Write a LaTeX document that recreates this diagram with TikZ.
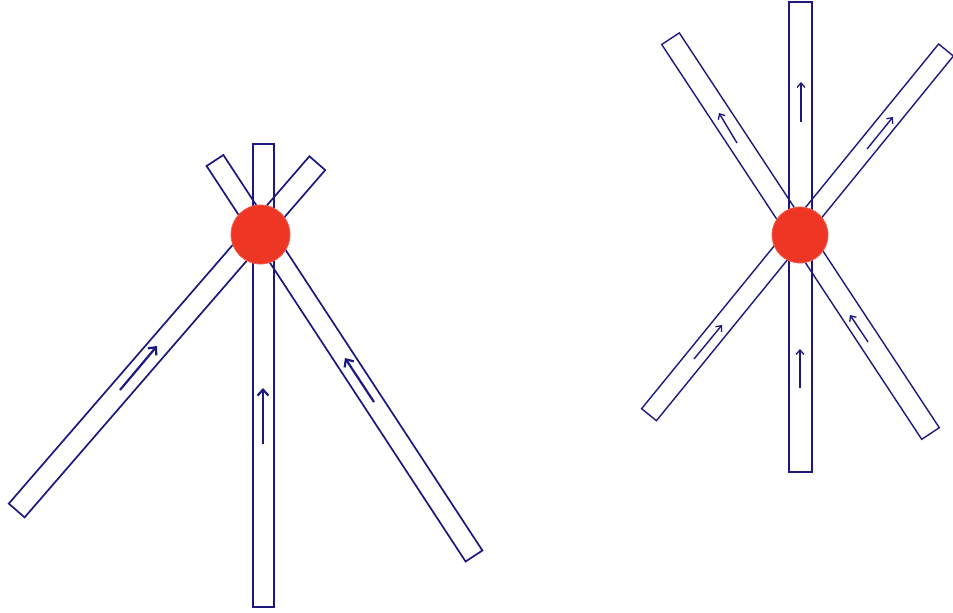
\documentclass[tikz,border=0pt]{standalone}
\usetikzlibrary{arrows.meta}
\definecolor{ink}{RGB}{28,24,128}
\definecolor{dotred}{RGB}{238,54,36}
\tikzset{
  bar/.style={draw=ink, line width=1.7pt, line join=miter},
  barthin/.style={draw=ink, line width=1.4pt, line join=miter},
  bigarrow/.style={draw=ink, line width=2.2pt, -{Straight Barb[length=6pt,width=11pt,line width=2.2pt]}},
  smallarrow/.style={draw=ink, line width=1.4pt, -{Straight Barb[length=4.5pt,width=8pt,line width=1.3pt]}},
  reddot/.style={fill=dotred, draw=dotred!80!white, line width=0.8pt}
}
\begin{document}
\begin{tikzpicture}[x=1pt,y=-1pt]
\useasboundingbox (0,0) rectangle (953,613);
\clip (0,0) rectangle (953,613);
% ---------- left figure ----------
\draw[bar] (253,144) -- (274,144) -- (274,607) -- (253,607) -- cycle;
\draw[bar] (206.6,166) -- (223.4,155) -- (482.4,550.5) -- (465.6,561.5) -- cycle;
\draw[bar] (309.4,156.3) -- (325.2,170.1) -- (24.6,517.4) -- (8.8,503.6) -- cycle;
\coordinate (la1) at (120,390); \coordinate (la2) at (157,346);
\coordinate (lb1) at (263,444); \coordinate (lb2) at (263,388);
\coordinate (lc1) at (374,402); \coordinate (lc2) at (345,358);
\draw[bigarrow] (la1) -- (la2);
\draw[bigarrow] (lb1) -- (lb2);
\draw[bigarrow] (lc1) -- (lc2);
\node[reddot, circle, minimum size=59pt, inner sep=0pt] (dotL) at (260.5,234.5) {};
% ---------- right figure ----------
\draw[barthin] (789,2) -- (812,2) -- (812,472) -- (789,472) -- cycle;
\draw[barthin] (661.7,44.5) -- (679.3,32.9) -- (939.3,427.7) -- (921.7,439.3) -- cycle;
\draw[barthin] (641.6,408.7) -- (938.6,44) -- (953.4,56) -- (656.4,420.7) -- cycle;
\coordinate (r1a) at (801,122); \coordinate (r1b) at (801,82);
\coordinate (r2a) at (737,143); \coordinate (r2b) at (719,113);
\coordinate (r3a) at (867,149); \coordinate (r3b) at (893,117);
\coordinate (r4a) at (694,359); \coordinate (r4b) at (722,325);
\coordinate (r5a) at (800,388); \coordinate (r5b) at (800,349);
\coordinate (r6a) at (868,342); \coordinate (r6b) at (850,315);
\draw[smallarrow] (r1a) -- (r1b);
\draw[smallarrow] (r2a) -- (r2b);
\draw[smallarrow] (r3a) -- (r3b);
\draw[smallarrow] (r4a) -- (r4b);
\draw[smallarrow] (r5a) -- (r5b);
\draw[smallarrow] (r6a) -- (r6b);
\node[reddot, circle, minimum size=56pt, inner sep=0pt] (dotR) at (800,235) {};
\end{tikzpicture}
\end{document}
